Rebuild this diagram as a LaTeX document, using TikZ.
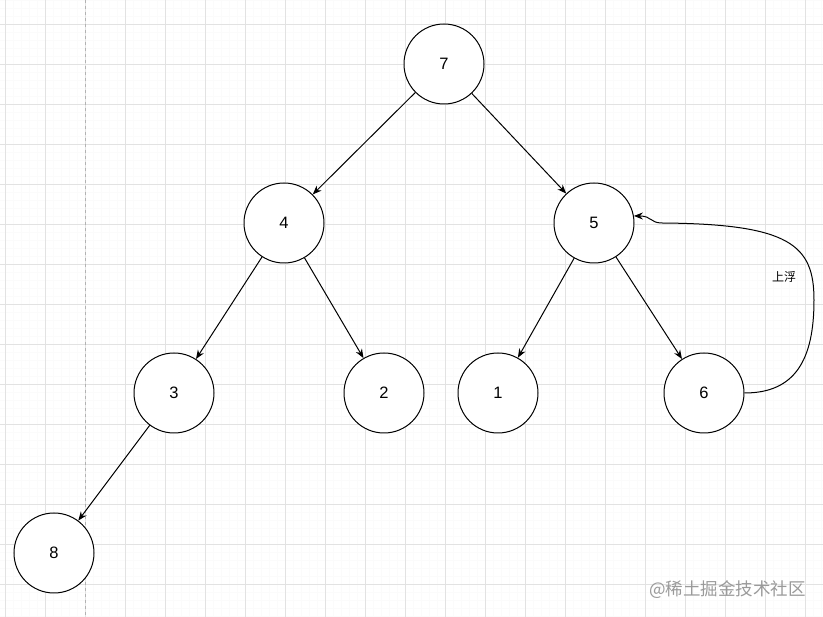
\documentclass[tikz,border=0pt]{standalone}
\usepackage{fontspec}
\setmainfont{Liberation Sans}
\newfontfamily\cjk{Noto Sans CJK SC}
\usetikzlibrary{arrows.meta}
\definecolor{gridmajor}{HTML}{E2E2E2}
\definecolor{gridminor}{HTML}{FBFBFB}
\definecolor{wm}{HTML}{9A9A9A}
\tikzset{
  vert/.style={circle,draw=black,line width=1pt,fill=white,minimum size=80pt,inner sep=0pt,font=\fontsize{16.5}{18}\selectfont},
  edge/.style={line width=1pt,-{Stealth[length=9pt,width=7pt]}},
}
\begin{document}
\begin{tikzpicture}[x=1pt,y=-1pt]
\fill[white] (0,0) rectangle (823,617);
\useasboundingbox (0,0) rectangle (823,617);
% minor grid
\foreach \x in {5,13,...,823} \draw[gridminor,line width=0.4pt] (\x,0) -- (\x,617);
\foreach \y in {0,8,...,617} \draw[gridminor,line width=0.4pt] (0,\y) -- (823,\y);
% major grid
\foreach \x in {5,45,...,823} \draw[gridmajor,line width=0.8pt] (\x,0) -- (\x,617);
\foreach \y in {24,64,...,617} \draw[gridmajor,line width=0.8pt] (0,\y) -- (823,\y);
\draw[gray!60,dashed,line width=0.8pt] (85,0) -- (85,617);

\node[vert] (n7) at (444,64) {7};
\node[vert] (n4) at (284,223) {4};
\node[vert] (n5) at (594,223) {5};
\node[vert] (n3) at (174,393) {3};
\node[vert] (n2) at (384,393) {2};
\node[vert] (n1) at (498,393) {1};
\node[vert] (n6) at (704,393) {6};
\node[vert] (n8) at (54,553) {8};

\draw[edge] (n7) -- (n4);
\draw[edge] (n7) -- (n5);
\draw[edge] (n4) -- (n3);
\draw[edge] (n4) -- (n2);
\draw[edge] (n5) -- (n1);
\draw[edge] (n5) -- (n6);
\draw[edge] (n3) -- (n8);

\coordinate (c1) at (814,300);
\coordinate (c2) at (662,223);
\draw[edge] (n6.east) .. controls (795,393) and (814,360) .. (c1)
  .. controls (814,245) and (790,224) .. (c2)
  .. controls (650,223) and (652,216) .. (n5.10);
\node[font=\cjk\fontsize{12}{14}\selectfont] (lab) at (784,277) {上浮};

\node[font=\cjk\fontsize{17.5}{19}\selectfont,text=wm,anchor=east,inner sep=0pt] (wmk) at (806,590) {@稀土掘金技术社区};
\end{tikzpicture}
\end{document}
